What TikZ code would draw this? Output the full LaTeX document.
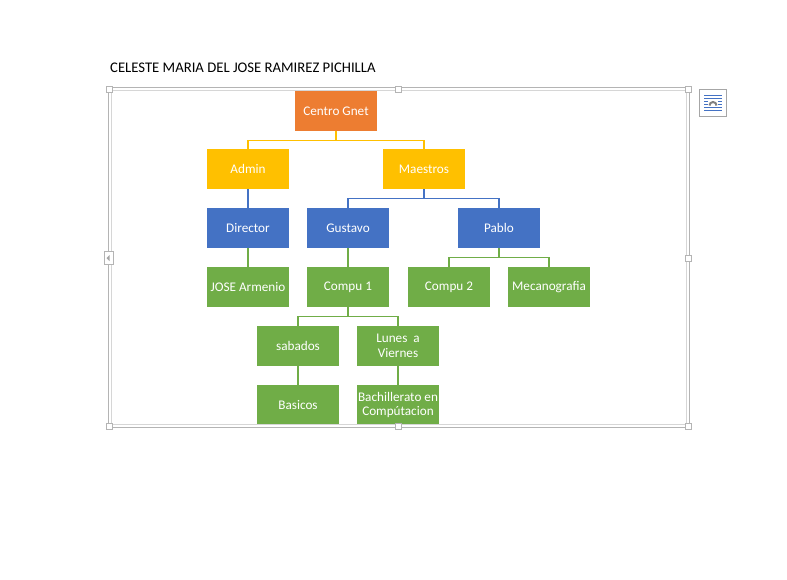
\documentclass[tikz,border=0pt]{standalone}
\usepackage{fontspec}
\usetikzlibrary{calc}
\setmainfont{Carlito}
\definecolor{orgC}{HTML}{ED7D31}
\definecolor{yelC}{HTML}{FFC000}
\definecolor{bluC}{HTML}{4472C4}
\definecolor{grnC}{HTML}{70AD47}
\definecolor{frameA}{HTML}{B4B4B4}
\definecolor{frameB}{HTML}{D6D6D6}
\tikzset{
  box/.style={minimum width=82pt, minimum height=40pt, inner sep=0pt, text=white, align=center,
    font=\fontsize{13.2}{14.8}\selectfont},
  orgbox/.style={box, fill=orgC},
  yelbox/.style={box, fill=yelC},
  blubox/.style={box, fill=bluC},
  grnbox/.style={box, fill=grnC},
  conn/.style={line width=1.3pt},
  handle/.style={draw=frameA, fill=white, line width=0.8pt, minimum size=6pt, inner sep=0pt},
}
\begin{document}
\begin{tikzpicture}[x=1pt,y=-1pt]
\useasboundingbox (0,0) rectangle (787,579);
\fill[white] (0,0) rectangle (787,579);

% title
\node[anchor=west, font=\fontsize{14.7}{16}\selectfont, inner sep=0pt] (title) at (110,67.5) {CELESTE MARIA DEL JOSE RAMIREZ PICHILLA};

% nodes
\node[orgbox] (cg) at (336,111) {Centro Gnet};
\node[yelbox] (admin) at (248,169) {Admin};
\node[yelbox] (maes) at (424,169) {Maestros};
\node[blubox] (dir) at (248,228) {Director};
\node[blubox] (gus) at (348,228) {Gustavo};
\node[blubox] (pab) at (499,228) {Pablo};
\node[grnbox] (jose) at (248,287) {JOSE Armenio};
\node[grnbox] (c1) at (348,287) {Compu 1};
\node[grnbox] (c2) at (449,287) {Compu 2};
\node[grnbox] (meca) at (549,287) {Mecanografia};
\node[grnbox] (sab) at (298,346) {sabados};
\node[grnbox] (lun) at (398,346) {Lunes\ \ a\\Viernes};
\node[grnbox] (bas) at (298,405) {Basicos};
\node[grnbox] (bach) at (398,405) {Bachillerato en\\Compútacion};

% connectors
\draw[conn, yelC] (cg.south) -- ++(0,9) -| (admin.north);
\draw[conn, yelC] (cg.south) -- ++(0,9) -| (maes.north);
\draw[conn, bluC] (admin.south) -- (dir.north);
\draw[conn, bluC] (maes.south) -- ++(0,9) -| (gus.north);
\draw[conn, bluC] (maes.south) -- ++(0,9) -| (pab.north);
\draw[conn, grnC] (dir.south) -- (jose.north);
\draw[conn, grnC] (gus.south) -- (c1.north);
\draw[conn, grnC] (pab.south) -- ++(0,9) -| (c2.north);
\draw[conn, grnC] (pab.south) -- ++(0,9) -| (meca.north);
\draw[conn, grnC] (c1.south) -- ++(0,9) -| (sab.north);
\draw[conn, grnC] (c1.south) -- ++(0,9) -| (lun.north);
\draw[conn, grnC] (sab.south) -- (bas.north);
\draw[conn, grnC] (lun.south) -- (bach.north);

% selection frame
\fill[white] (107,425.5) rectangle (691,440);
\draw[frameA, line width=0.9pt] (108.5,87.5) rectangle (689.5,427.5);
\draw[frameB, line width=0.9pt] (111.5,90.5) rectangle (686.5,424.5);

% handles
\node[handle] (h1) at (109,89) {};
\node[handle] (h2) at (398.5,89) {};
\node[handle] (h3) at (688.5,89) {};
\node[handle] (h4) at (688.5,258) {};
\node[handle] (h5) at (109,426.5) {};
\node[handle] (h6) at (398.5,426.5) {};
\node[handle] (h7) at (688.5,426.5) {};
\node[draw=frameA, fill=white, line width=0.8pt, minimum width=9pt, minimum height=13pt, inner sep=0pt] (hl) at (109,258) {};
\fill[gray!70] ($(hl.center)+(-2.5,0)$) -- ++(3,-3) -- ++(0,6) -- cycle;

% layout options icon
\node[draw=gray!70, fill=white, line width=0.9pt, minimum size=27pt, inner sep=0pt] (icon) at (713,103) {};
\begin{scope}[bluC, line width=0.9pt]
  \draw ($(icon.north west)+(5,6)$) -- ($(icon.north east)+(-5,6)$);
  \draw ($(icon.north west)+(5,9)$) -- ($(icon.north east)+(-5,9)$);
  \draw ($(icon.north west)+(5,12)$) -- ++(4,0);
  \draw ($(icon.north east)+(-5,12)$) -- ++(-4,0);
  \draw ($(icon.north west)+(5,15)$) -- ++(4,0);
  \draw ($(icon.north east)+(-5,15)$) -- ++(-4,0);
  \draw ($(icon.north west)+(5,18)$) -- ($(icon.north east)+(-5,18)$);
  \draw ($(icon.north west)+(5,21)$) -- ($(icon.north east)+(-5,21)$);
\end{scope}
\draw[gray, line width=2pt] ($(icon.center)+(-3.5,2.5)$) arc[start angle=180, end angle=360, radius=3.5];
\end{tikzpicture}
\end{document}
